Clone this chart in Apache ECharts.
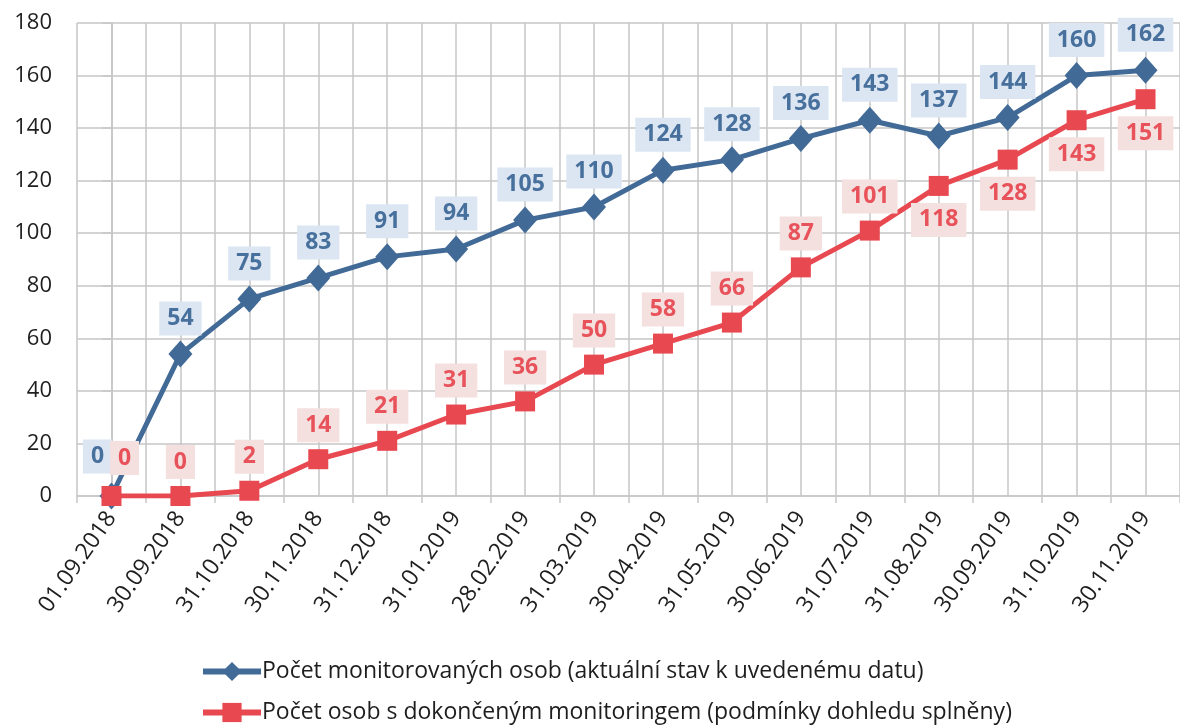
<!DOCTYPE html>
<html>
<head>
<meta charset="utf-8">
<title>Monitoring</title>
<script src="https://cdn.jsdelivr.net/npm/echarts@6/dist/echarts.min.js"></script>
<style>
  html, body { margin: 0; padding: 0; background: #fff; }
  #chart { width: 1180px; height: 727px; }
</style>
</head>
<body>
<div id="chart"></div>
<script>
// data
const dates = ['01.09.2018', '30.09.2018', '31.10.2018', '30.11.2018', '31.12.2018', '31.01.2019',
  '28.02.2019', '31.03.2019', '30.04.2019', '31.05.2019', '30.06.2019', '31.07.2019',
  '31.08.2019', '30.09.2019', '31.10.2019', '30.11.2019'];
const monitored = [0, 54, 75, 83, 91, 94, 105, 110, 124, 128, 136, 143, 137, 144, 160, 162];
const completed = [0, 0, 2, 14, 21, 31, 36, 50, 58, 66, 87, 101, 118, 128, 143, 151];
const yTicks = [0, 20, 40, 60, 80, 100, 120, 140, 160, 180];
const nameMonitored = 'Počet monitorovaných osob (aktuální stav k uvedenému datu)';
const nameCompleted = 'Počet osob s dokončeným monitoringem (podmínky dohledu splněny)';

const FONT = 'Open Sans';
const GRID = '#c6c6c6';
const BLUE = '#426a97';
const RED = '#e84850';

let myChart = echarts.init(document.getElementById('chart'), null, { renderer: 'canvas' });

// per-point label tweaks (first point labels pushed apart, red labels go below once lines get close)
const blueData = monitored.map((v, i) => i === 0
  ? { value: v, label: { offset: [-14, -4] } }
  : v);
const redData = completed.map((v, i) => {
  if (i === 0) return { value: v, label: { offset: [13, -4] } };
  if (i >= 12) return { value: v, label: { position: 'bottom' } };
  return v;
});

const legendBase = {
  left: 195,
  itemWidth: 58,
  itemHeight: 24,
  lineStyle: { width: 6 },
  textStyle: { color: '#1e1e1e', fontFamily: FONT, fontSize: 23, padding: [0, 0, 0, -4] }
};

myChart.setOption({
  animation: false,
  grid: { left: 77, right: -8, top: 23, bottom: 231 },
  xAxis: [
    {
      type: 'category',
      data: dates,
      boundaryGap: true,
      axisLine: { lineStyle: { color: GRID, width: 1.5 } },
      axisTick: { show: true, length: 7, lineStyle: { color: GRID, width: 1.5 } },
      splitLine: { show: false },
      axisLabel: {
        interval: 0,
        rotate: 55,
        margin: 18,
        color: '#1e1e1e',
        fontFamily: FONT,
        fontSize: 23
      }
    },
    {
      // hidden helper axis: draws the vertical gridlines at every half category
      type: 'value',
      min: -0.5,
      max: dates.length - 0.5,
      interval: 0.5,
      position: 'bottom',
      axisLine: { show: false },
      axisTick: { show: false },
      axisLabel: { show: false },
      splitLine: { show: true, lineStyle: { color: GRID, width: 1.5 } }
    }
  ],
  yAxis: {
    type: 'value',
    min: yTicks[0],
    max: yTicks[yTicks.length - 1],
    interval: 20,
    axisLine: { show: true, lineStyle: { color: GRID, width: 1.5 } },
    axisTick: { show: true, length: 9, lineStyle: { color: GRID, width: 1.5 } },
    splitLine: { show: true, lineStyle: { color: GRID, width: 1.5 } },
    axisLabel: {
      margin: 25,
      color: '#1e1e1e',
      fontFamily: FONT,
      fontSize: 22
    }
  },
  legend: [
    Object.assign({ top: 655, data: [nameMonitored] }, legendBase),
    Object.assign({ top: 696, data: [nameCompleted] }, legendBase)
  ],
  series: [
    {
      name: nameMonitored,
      type: 'line',
      xAxisIndex: 0,
      data: blueData,
      symbol: 'diamond',
      symbolSize: [24, 27],
      z: 2,
      itemStyle: { color: BLUE },
      lineStyle: { color: BLUE, width: 5 },
      label: {
        show: true,
        position: 'top',
        distance: 5,
        color: '#47709d',
        fontFamily: FONT,
        fontWeight: 'bold',
        fontSize: 23,
        lineHeight: 24,
        backgroundColor: '#dce6f2',
        padding: [5, 8]
      }
    },
    {
      name: nameCompleted,
      type: 'line',
      xAxisIndex: 0,
      data: redData,
      symbol: 'rect',
      symbolSize: 20,
      z: 3,
      itemStyle: { color: RED },
      lineStyle: { color: RED, width: 5 },
      label: {
        show: true,
        position: 'top',
        distance: 7,
        color: '#e8525a',
        fontFamily: FONT,
        fontWeight: 'bold',
        fontSize: 23,
        lineHeight: 24,
        backgroundColor: '#f4e0df',
        padding: [5, 8]
      }
    }
  ]
});
</script>
</body>
</html>
